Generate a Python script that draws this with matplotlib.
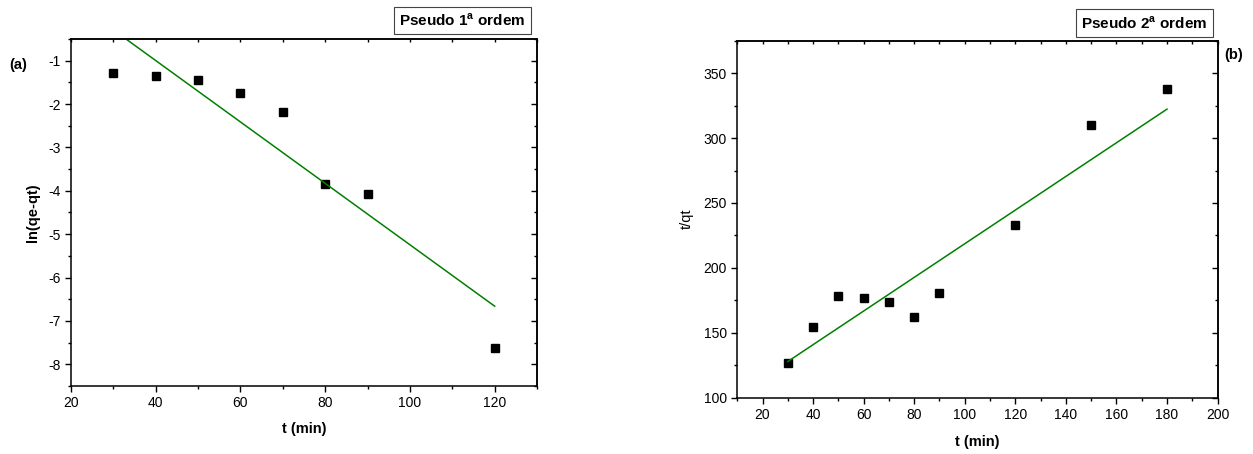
import matplotlib.pyplot as plt
from matplotlib.ticker import MultipleLocator

# pseudo first order: ln(qe - qt) vs t
t1 = [30, 40, 50, 60, 70, 80, 90, 120]
ln_q = [-1.28, -1.36, -1.45, -1.75, -2.19, -3.84, -4.07, -7.63]
fit1_t = [30, 120]
fit1_y = [-0.29, -6.66]

# pseudo second order: t/qt vs t
t2 = [30, 40, 50, 60, 70, 80, 90, 120, 150, 180]
t_qt = [126.4, 154.8, 178.2, 176.6, 173.8, 162.5, 181.0, 233.3, 310.0, 337.7]
fit2_t = [30, 180]
fit2_y = [127.9, 322.3]

plt.rcParams["font.family"] = ["Liberation Sans", "DejaVu Sans"]
plt.rcParams["font.size"] = 10
plt.rcParams["axes.unicode_minus"] = False
plt.rcParams["mathtext.fontset"] = "custom"
plt.rcParams["mathtext.rm"] = "Liberation Sans"
plt.rcParams["mathtext.bf"] = "Liberation Sans:bold"

fig = plt.figure(figsize=(12.53, 4.54), dpi=100)
ax1 = fig.add_axes([0.0567, 0.1498, 0.3719, 0.7643])
ax2 = fig.add_axes([0.5884, 0.1240, 0.3833, 0.7863])


def style_axes(ax):
    for s in ax.spines.values():
        s.set_linewidth(1.1)
    ax.tick_params(which="both", direction="out", top=False, right=False, width=1.0)
    ax.tick_params(which="major", length=4.5, pad=3)
    ax.tick_params(which="minor", length=2.5)
    # inner ticks on the top and right edges
    sec_x = ax.secondary_xaxis("top")
    sec_x.xaxis.set_major_locator(MultipleLocator(10))
    sec_x.tick_params(direction="in", length=2.5, width=1.0, labeltop=False)
    sec_y = ax.secondary_yaxis("right")
    sec_y.yaxis.set_major_locator(ax.yaxis.get_major_locator())
    sec_y.yaxis.set_minor_locator(ax.yaxis.get_minor_locator())
    sec_y.tick_params(which="major", direction="in", length=4.5, width=1.0, labelright=False)
    sec_y.tick_params(which="minor", direction="in", length=2.5, width=1.0)
    sec_x.spines["top"].set_linewidth(1.1)
    sec_y.spines["right"].set_linewidth(1.1)


box = dict(boxstyle="square,pad=0.35", facecolor="white", edgecolor="#444444", linewidth=0.8)

ax1.plot(t1, ln_q, "s", color="black", markersize=6)
ax1.plot(fit1_t, fit1_y, "-", color="#008000", linewidth=1.1)
ax1.set_xlim(20, 130)
ax1.set_ylim(-8.5, -0.5)
ax1.xaxis.set_major_locator(MultipleLocator(20))
ax1.xaxis.set_minor_locator(MultipleLocator(10))
ax1.yaxis.set_major_locator(MultipleLocator(1))
ax1.yaxis.set_minor_locator(MultipleLocator(0.5))
style_axes(ax1)
ax1.set_xlabel("t (min)", fontweight="bold", fontsize=10.5)
ax1.set_ylabel("ln(qe-qt)", fontweight="bold", fontsize=10.5)
ax1.xaxis.set_label_coords(0.5, -0.104)
ax1.yaxis.set_label_coords(-0.067, 0.5)
ax1.text(-0.113, 0.925, "(a)", transform=ax1.transAxes, fontweight="bold", fontsize=10.5,
         ha="center", va="center")
ax1.text(0.975, 1.054, r"Pseudo 1$^{\mathbf{a}}$ ordem", transform=ax1.transAxes,
         fontweight="bold", fontsize=11, ha="right", va="center", bbox=box)

ax2.plot(t2, t_qt, "s", color="black", markersize=6)
ax2.plot(fit2_t, fit2_y, "-", color="#008000", linewidth=1.1)
ax2.set_xlim(10, 200)
ax2.set_ylim(100, 375)
ax2.xaxis.set_major_locator(MultipleLocator(20))
ax2.xaxis.set_minor_locator(MultipleLocator(10))
ax2.yaxis.set_major_locator(MultipleLocator(50))
ax2.yaxis.set_minor_locator(MultipleLocator(25))
style_axes(ax2)
ax2.set_xlabel("t (min)", fontweight="bold", fontsize=10.5)
ax2.set_ylabel("t/qt", fontsize=10.5)
ax2.xaxis.set_label_coords(0.5, -0.104)
ax2.yaxis.set_label_coords(-0.09, 0.5)
ax2.text(1.033, 0.96, "(b)", transform=ax2.transAxes, fontweight="bold", fontsize=10.5,
         ha="center", va="center")
ax2.text(0.9785, 1.05, r"Pseudo 2$^{\mathbf{a}}$ ordem", transform=ax2.transAxes,
         fontweight="bold", fontsize=11, ha="right", va="center", bbox=box)

fig.savefig("out.png", dpi=100)
